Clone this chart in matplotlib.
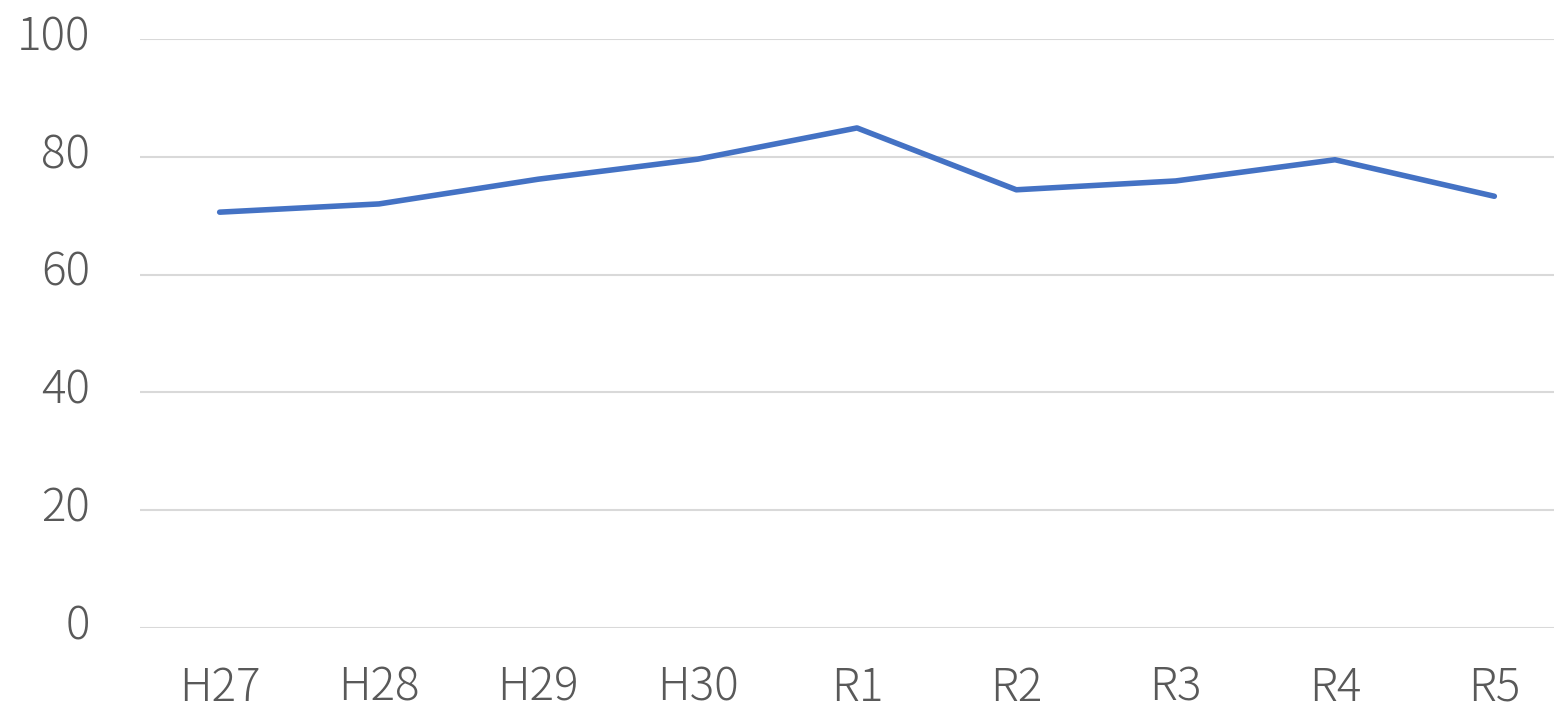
import matplotlib
matplotlib.use("Agg")
import matplotlib.pyplot as plt
import matplotlib.transforms as mtransforms

# data
years = ["H27", "H28", "H29", "H30", "R1", "R2", "R3", "R4", "R5"]
values = [70.6, 72.0, 76.2, 79.6, 84.9, 74.4, 75.9, 79.5, 73.3]
y_ticks = [0, 20, 40, 60, 80, 100]

plt.rcParams['font.family'] = ['Noto Sans CJK JP', 'DejaVu Sans']

fig = plt.figure(figsize=(15.54, 7.11), dpi=100)
# the plot area runs a little past the right edge of the image
ax = fig.add_axes([140 / 1554, 1 - 628 / 711, (1574 - 140) / 1554, (628 - 39) / 711])

x = list(range(len(years)))
ax.plot(x, values, color="#4472C4", linewidth=4, solid_capstyle="round", zorder=3)

ax.set_xlim(-0.5, len(years) - 0.5)
ax.set_ylim(0, 100)
ax.set_yticks(y_ticks)
ax.set_xticks(x)
ax.set_xticklabels(years)

ax.grid(axis="y", color="#D9D9D9", linewidth=1.5)
ax.set_axisbelow(True)
for s in ax.spines.values():
    s.set_visible(False)

ax.tick_params(axis="both", length=0, labelsize=33, labelcolor="#595959")
ax.tick_params(axis="y", pad=36)
ax.tick_params(axis="x", pad=26)

# nudge y labels up a bit so they sit like the reference
shift = mtransforms.ScaledTranslation(0, 5 / 72, fig.dpi_scale_trans)
for lbl in ax.get_yticklabels():
    lbl.set_fontweight("light")
    lbl.set_transform(lbl.get_transform() + shift)
for lbl in ax.get_xticklabels():
    lbl.set_fontweight("light")

fig.savefig("out.png", dpi=100)
